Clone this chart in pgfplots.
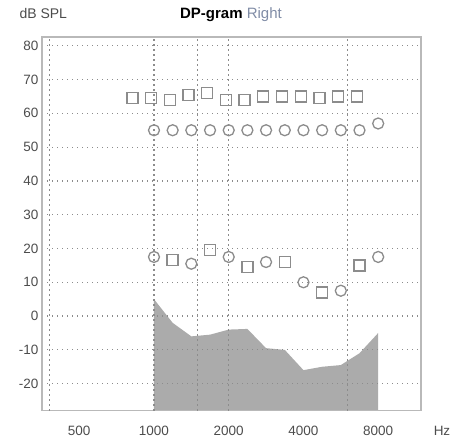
\documentclass[border=0pt]{standalone}
\usepackage{pgfplots}
\pgfplotsset{compat=1.18}
\usepackage{fontspec}
\setmainfont{Liberation Sans}
\definecolor{mk}{gray}{0.55}
\definecolor{gridc}{gray}{0.55}
\definecolor{labc}{gray}{0.3}
\definecolor{rightc}{rgb}{0.5,0.55,0.65}
\begin{document}
\begin{tikzpicture}[x=1pt,y=1pt]
\useasboundingbox (0,0) rectangle (459,438);
\begin{axis}[at={(42pt,27.3pt)}, anchor=south west, scale only axis,
  width=379pt, height=373.7pt,
  xmode=log, log basis x=2, xmin=354, xmax=11900, ymin=-28, ymax=82.6,
  xtick={500,1000,2000,4000,8000}, xticklabels={500,1000,2000,4000,8000},
  ytick={-20,-10,0,10,20,30,40,50,60,70,80},
  ymajorgrids,
  grid style={gridc, line width=1.2pt, dash pattern=on 1.2pt off 3.8pt},
  extra x ticks={380,1000,1500,2000,6000}, extra x tick labels={},
  extra x tick style={grid=major},
  tick style={draw=none},
  axis line style={draw=gray!55, line width=1.6pt},
  tick label style={font=\fontsize{13.5}{13.5}\selectfont, text=labc},
  xticklabel style={yshift=-12pt},
  /pgf/number format/assume math mode=true,
  axis on top]
% noise floor
\addplot[draw=none, fill=black!33] coordinates {
 (1000,-28) (1000,5) (1189,-2) (1414,-6) (1682,-5.5) (2000,-4) (2378,-3.8) (2828,-9.5)
 (3364,-10) (4000,-16) (4757,-15) (5657,-14.5) (6727,-11) (8000,-5) (8000,-28)} -- cycle;
% L1 at f1
\addplot[only marks, mark=square, mark size=5.5pt, draw=mk, line width=1.3pt] coordinates {
 (820,64.5) (975,64.5) (1159,64) (1379,65.5) (1639,66) (1949,64) (2318,64)
 (2757,65) (3279,65) (3899,65) (4637,64.5) (5514,65) (6557,65)};
% L2 at f2
\addplot[only marks, mark=o, mark size=5.5pt, draw=mk, line width=1.3pt] coordinates {
 (1000,55) (1189,55) (1414,55) (1682,55) (2000,55) (2378,55) (2828,55)
 (3364,55) (4000,55) (4757,55) (5657,55) (6727,55) (8000,57)};
% DP
\addplot[only marks, mark=o, mark size=5.5pt, draw=mk, line width=1.3pt] coordinates {
 (1000,17.5) (1414,15.5) (2000,17.5) (2828,16) (4000,10) (5657,7.5) (8000,17.5)};
\addplot[only marks, mark=square, mark size=5.5pt, draw=mk, line width=1.3pt] coordinates {
 (1189,16.5) (1682,19.5) (2378,14.5) (3364,16) (4757,7) (6727,15)};
\end{axis}
\node[anchor=base west, font=\fontsize{14}{14}\selectfont, text=labc] at (16,419) {dB SPL};
\node[anchor=base, font=\fontsize{15}{15}\selectfont] at (231,419) {\textbf{DP-gram} \textcolor{rightc}{Right}};
\node[anchor=base, font=\fontsize{13.5}{13.5}\selectfont, text=labc] at (442,2) {Hz};
\end{tikzpicture}
\end{document}
